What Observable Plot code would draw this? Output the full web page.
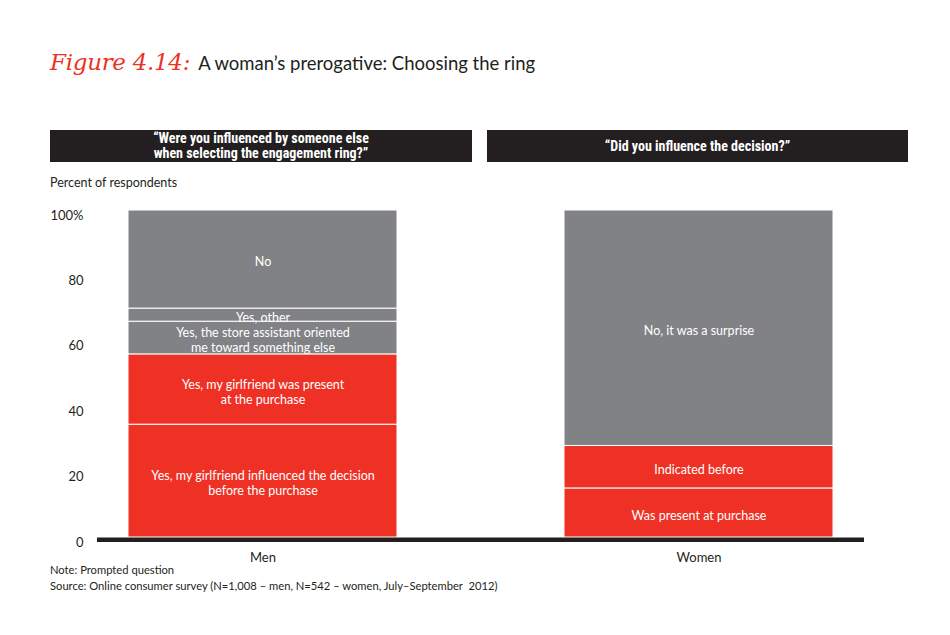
<!DOCTYPE html>
<html>
<head>
<meta charset="utf-8">
<script src="https://cdn.jsdelivr.net/npm/d3@7"></script>
<script src="https://cdn.jsdelivr.net/npm/@observablehq/plot@0.6"></script>
<style>
  html, body { margin: 0; padding: 0; background: #fff; }
  body { width: 950px; height: 635px; position: relative; overflow: hidden; font-family: Lato, "Open Sans", sans-serif; color: #231f20; }
  .abs { position: absolute; white-space: nowrap; }
  #title { left: 50px; top: 49px; font-size: 18.5px; }
  #title .fig { color: #ee3124; font-style: italic; font-size: 23px; font-family: "DejaVu Serif", serif; font-weight: 300; margin-right: 8px; letter-spacing: -0.3px; }
  .hdr { top: 130px; height: 32px; background: #231f20; color: #fff; font-weight: bold; font-size: 14px; line-height: 15px; text-align: center; display: flex; align-items: center; justify-content: center; font-family: "Liberation Sans Narrow", "Arial Narrow", Roboto, sans-serif; font-stretch: condensed; }
  #h1 { left: 50px; width: 422px; }
  #h2 { left: 487px; width: 421px; }
  #ylab { left: 50px; top: 175px; font-size: 12.5px; }
  #chart { left: 0; top: 195px; }
  #note { left: 50px; top: 562px; font-size: 11.2px; line-height: 15.5px; }
</style>
</head>
<body>
<div id="title" class="abs"><span class="fig">Figure 4.14:</span>A woman’s prerogative: Choosing the ring</div>
<div id="h1" class="abs hdr">“Were you influenced by someone else<br>when selecting the engagement ring?”</div>
<div id="h2" class="abs hdr">“Did you influence the decision?”</div>
<div id="ylab" class="abs">Percent of respondents</div>
<div id="chart" class="abs"></div>
<div id="note" class="abs">Note: Prompted question<br>Source: Online consumer survey (N=1,008 – men, N=542 – women, July–September&nbsp; 2012)</div>
<script>
// Data
const groups = ["Men", "Women"];
const menAnswers = [
  "Yes, my girlfriend influenced the decision\nbefore the purchase",
  "Yes, my girlfriend was present\nat the purchase",
  "Yes, the store assistant oriented\nme toward something else",
  "Yes, other",
  "No"
];
const menValues = [34.5, 21.5, 10, 4, 30];
const menKind = ["girlfriend", "girlfriend", "other", "other", "other"];
const womenAnswers = ["Was present at purchase", "Indicated before", "No, it was a surprise"];
const womenValues = [15, 13, 72];
const womenKind = ["girlfriend", "girlfriend", "other"];
const yTicks = [0, 20, 40, 60, 80, 100];

const rows = [
  ...menAnswers.map((a, i) => ({group: "Men", answer: a, value: menValues[i], kind: menKind[i], order: i})),
  ...womenAnswers.map((a, i) => ({group: "Women", answer: a, value: womenValues[i], kind: womenKind[i], order: i}))
];

const chart = Plot.plot({
  width: 950,
  height: 370,
  marginLeft: 97,
  marginRight: 86,
  marginTop: 15,
  marginBottom: 28,
  style: {fontFamily: "Lato, 'Open Sans', sans-serif", fontSize: "13px", color: "#231f20", background: "transparent"},
  x: {domain: groups, paddingInner: 0.384, paddingOuter: 0.07, label: null, tickSize: 0, tickPadding: 15},
  y: {domain: [0, 100], label: null},
  color: {domain: ["girlfriend", "other"], range: ["#ee3124", "#818285"]},
  marks: [
    Plot.axisY({ticks: yTicks, tickFormat: d => d === 100 ? "100%" : String(d), tickSize: 0, tickPadding: 14, dy: 5, label: null}),
    Plot.barY(rows, Plot.stackY({x: "group", y: "value", fill: "kind", order: "order", stroke: "white", strokeWidth: 1})),
    Plot.text(rows, Plot.stackY({x: "group", y: "value", order: "order", text: "answer", fill: "white", fontSize: 12.5, lineHeight: 1.2, dy: 2})),
    Plot.ruleY([0], {stroke: "#231f20", strokeWidth: 4.5, dy: 2.2})
  ]
});
document.getElementById("chart").appendChild(chart);
</script>
</body>
</html>
